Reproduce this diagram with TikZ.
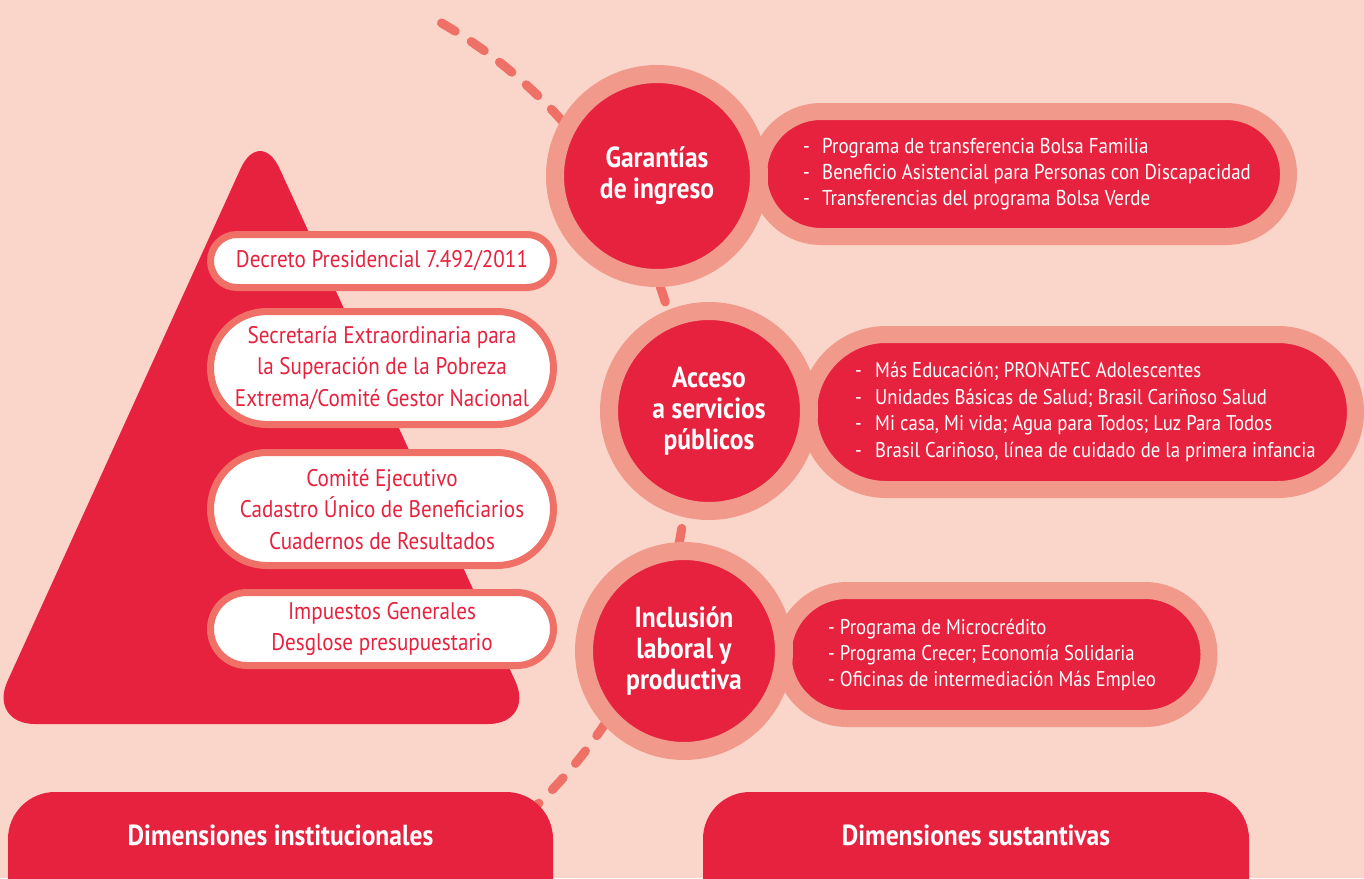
\documentclass[tikz,border=0pt]{standalone}
\usepackage{fontspec}
\setmainfont{PT Sans}[FakeStretch=0.88]
\usetikzlibrary{shapes.misc}
\definecolor{bgc}{HTML}{F9D5CA}
\definecolor{rd}{HTML}{E6223F}
\definecolor{ringc}{HTML}{F19A8C}
\definecolor{edgec}{HTML}{EF7066}
\tikzset{
 wpill/.style={rounded rectangle, fill=white, draw=edgec, line width=7pt, text=rd, font=\fontsize{24}{31.5}\selectfont, align=center, inner sep=0pt, minimum width=343pt},
 rpill/.style={rounded rectangle, fill=rd, draw=ringc, line width=17pt, inner sep=0pt},
 rtxt/.style={text=white, font=\fontsize{21.3}{26.4}\selectfont, align=left, anchor=west, inner sep=0pt},
 dimc/.style={circle, fill=rd, draw=ringc, line width=18pt, inner sep=0pt, text=white, font=\bfseries\fontsize{29}{31}\selectfont, align=center, minimum size=200pt},
 botpill/.style={rectangle, fill=rd, rounded corners=47pt, inner sep=0pt},
 bottxt/.style={text=white, font=\bfseries\fontsize{29}{30}\selectfont, inner sep=0pt},
 dashline/.style={draw=edgec, line width=9pt, line cap=round, dash pattern=on 16pt off 19pt},
}
\begin{document}
\begin{tikzpicture}[x=1pt,y=-1pt]
\fill[bgc] (0,0) rectangle (1364,878);
\useasboundingbox (0,0) rectangle (1364,878);
% dashed arc
\coordinate (a0) at (441.5,23);
\draw[dashline] (a0) arc[start angle=60, end angle=-50, radius=493pt];
% pyramid
\fill[rd, rounded corners=47pt] (260,126) -- (535,724) -- (-12,724) -- cycle;
% white pills
\node[wpill, minimum height=53pt] (dec) at (382,261) {Decreto Presidencial 7.492/2011};
\node[wpill, minimum height=113pt] (sec) at (382,368) {Secretaría Extraordinaria para\\la Superación de la Pobreza\\Extrema/Comité Gestor Nacional};
\node[wpill, minimum height=113pt] (com) at (382,509) {Comité Ejecutivo\\Cadastro Único de Beneficiarios\\Cuadernos de Resultados};
\node[wpill, minimum height=73pt] (imp) at (382,629) {Impuestos Generales\\Desglose presupuestario};
% right pills
\node[rpill, minimum width=530pt, minimum height=125pt] (p1) at (1023.5,174) {};
\node[rpill, minimum width=547pt, minimum height=155pt] (p2) at (1082,412) {};
\node[rpill, minimum width=426pt, minimum height=128pt] (p3) at (996,654.5) {};
\node[rtxt, font=\fontsize{21.5}{26.2}\selectfont] (t1) at (803,174) {\makebox[19pt][l]{-}Programa de transferencia Bolsa Familia\\\makebox[19pt][l]{-}Beneficio Asistencial para Personas con Discapacidad\\\makebox[19pt][l]{-}Transferencias del programa Bolsa Verde};
\node[rtxt] (t2) at (855,412) {\makebox[20pt][l]{-}Más Educación; PRONATEC Adolescentes\\\makebox[20pt][l]{-}Unidades Básicas de Salud; Brasil Cariñoso Salud\\\makebox[20pt][l]{-}Mi casa, Mi vida; Agua para Todos; Luz Para Todos\\\makebox[20pt][l]{-}Brasil Cariñoso, línea de cuidado de la primera infancia};
\node[rtxt] (t3) at (828,655) {- Programa de Microcrédito\\- Programa Crecer; Economía Solidaria\\- Oficinas de intermediación Más Empleo};
% circles
\node[dimc, minimum size=204pt] (c1) at (657,176) {Garantías\\de ingreso};
\node[dimc] (c2) at (709,411) {Acceso\\a servicios\\públicos};
\node[dimc] (c3) at (684,651) {Inclusión\\laboral y\\productiva};
% bottom pills
\node[botpill, minimum width=545pt, minimum height=140pt] (bi) at (280.5,862) {};
\node[botpill, minimum width=546pt, minimum height=140pt] (bs) at (976,862) {};
\node[bottxt] (bit) at ([yshift=27pt]bi.center) {Dimensiones institucionales};
\node[bottxt] (bst) at ([yshift=27pt]bs.center) {Dimensiones sustantivas};
\end{tikzpicture}
\end{document}
